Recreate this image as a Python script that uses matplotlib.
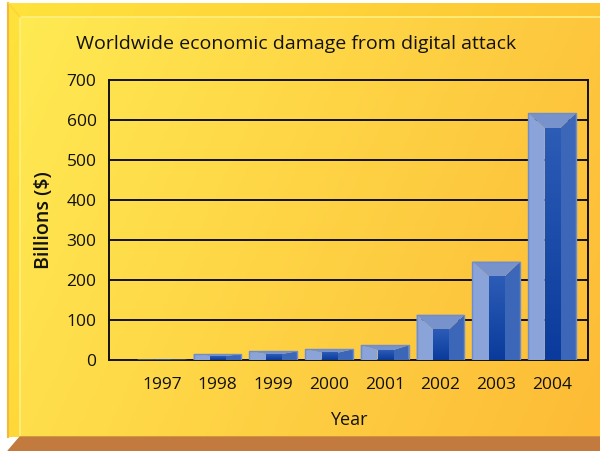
import numpy as np
import matplotlib.pyplot as plt
from matplotlib.colors import LinearSegmentedColormap

years = [1997, 1998, 1999, 2000, 2001, 2002, 2003, 2004]
damage = [1, 15, 22, 27, 37, 113, 246, 617]
yticks = [0, 100, 200, 300, 400, 500, 600, 700]

W, H = 600, 451
fig = plt.figure(figsize=(6, 4.51), dpi=100)
plt.rcParams['font.family'] = ['Open Sans', 'DejaVu Sans']

# background (pixel coordinates, y downwards)
bg = fig.add_axes([0, 0, 1, 1])
bg.set_xlim(0, W)
bg.set_ylim(H, 0)
bg.axis("off")

def grad(c1, c2):
    return LinearSegmentedColormap.from_list("g", [c1, c2])

xx, yy = np.meshgrid(np.linspace(0, 1, 200), np.linspace(0, 1, 200))
diag = (xx * 0.75 + yy * 0.25)
# outer frame
bg.imshow(diag, cmap=grad("#ffe23c", "#fdbd33"), extent=(8, W, 437, 3), aspect="auto", zorder=0)
# inner panel
bg.imshow(diag, cmap=grad("#ffea52", "#fdbb36"), extent=(20, W, 437, 17), aspect="auto", zorder=1)
bg.plot([20, W], [17, 17], color="#fff080", lw=1.2, zorder=2)
bg.plot([20, 20], [17, 437], color="#fff080", lw=1.2, zorder=2)
bg.plot([8, 8], [3, 437], color="#f4b83a", lw=1.5, zorder=2)
bg.plot([8, 20], [3, 17], color="#ffd23a", lw=1, zorder=2)
bg.fill([8, 20, W, W, 8], [451, 437, 437, 451, 451], color="#c27a3e", zorder=3)

fig.text(76 / W, 1 - 44 / H, "Worldwide economic damage from digital attack",
         fontsize=14, va="center", ha="left", color="#111111")

ax = fig.add_axes([109 / W, 91 / H, 479 / W, 280 / H])
ax.set_facecolor("none")
ax.set_xlim(1996.054, 2004.646)
ax.set_ylim(0, 700)
ax.set_yticks(yticks)
ax.set_xticks(years)
ax.tick_params(length=0, labelsize=12.5, colors="#111111", pad=9)
ax.tick_params(axis="x", pad=12)
for s in ax.spines.values():
    s.set_linewidth(1.4)
    s.set_color("#111111")
for t in yticks[1:-1]:
    ax.axhline(t, color="#111111", lw=1.4, zorder=1)
ax.set_ylabel("Billions ($)", fontsize=14, fontweight="semibold", labelpad=9, color="#111111")
ax.set_xlabel("Year", fontsize=13, labelpad=13, color="#111111")

bw = 0.86
px_y = 700 / 280.0  # data units per pixel in y
for x, v in zip(years, damage):
    x0, x3 = x - bw / 2, x + bw / 2
    x1, x2 = x0 + bw * 0.35, x3 - bw * 0.33
    b = min(15 * px_y, v / 3.0)
    yi = v - b
    # left face
    ax.fill([x0, x0, x1, x1], [0, v, yi, 0], color="#8aa3d8", zorder=3, lw=0)
    # right face
    ax.fill([x3, x3, x2, x2], [0, v, yi, 0], color="#3c66b8", zorder=3, lw=0)
    # top face
    ax.fill([x0, x3, x2, x1], [v, v, yi, yi], color="#7892cc", zorder=3, lw=0)
    # center face with vertical gradient
    if yi > 0:
        g = np.linspace(1, 0, 50).reshape(-1, 1)
        ax.imshow(g, cmap=grad("#0a3b9c", "#2c5cb6"), extent=(x1, x2, 0, yi),
                  aspect="auto", zorder=3, origin="upper")
    ax.plot([x0, x0, x3, x3], [0, v, v, 0], color="#6f8ccb", lw=1, zorder=4)

ax.set_xlim(1996.054, 2004.646)
ax.set_ylim(0, 700)

fig.savefig("out.png", dpi=100)
